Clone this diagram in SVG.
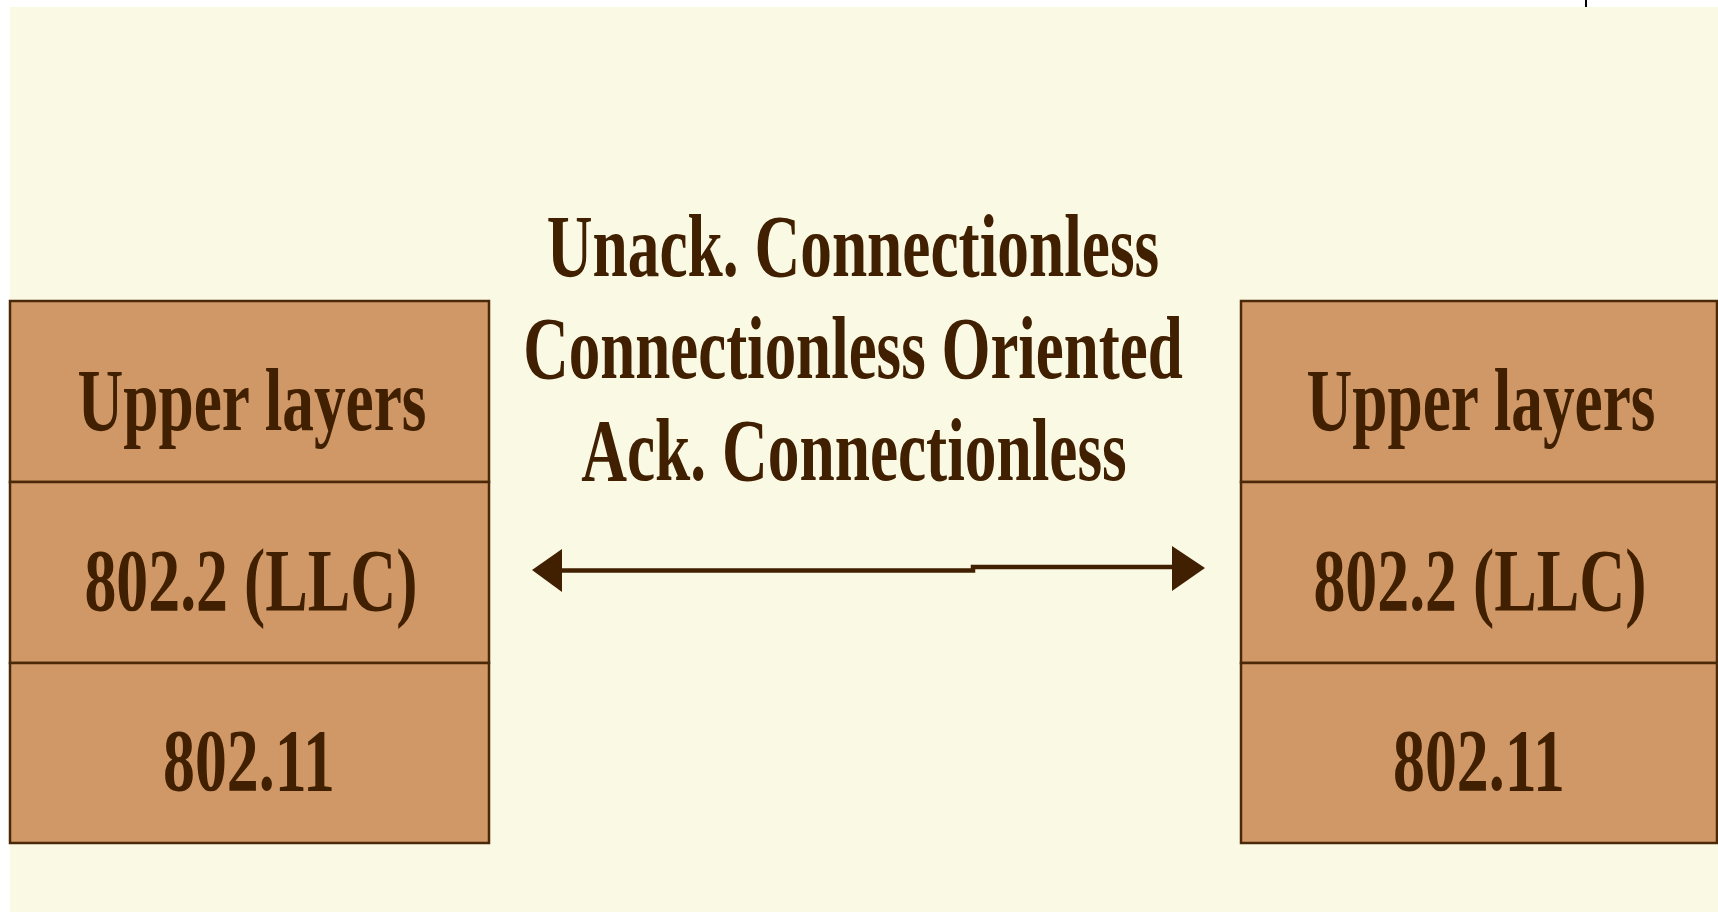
<svg xmlns="http://www.w3.org/2000/svg" width="1718" height="912" viewBox="0 0 1718 912">
  <style>
    .panel { fill: #FAF9E4; }
    .layer { fill: #D09866; stroke: #4A2808; stroke-width: 2.5; }
    .label { font-family: "Liberation Serif", "Times New Roman", serif; font-weight: bold; font-size: 88px; fill: #402000; text-anchor: middle; }
    .wire { stroke: #402000; stroke-width: 4.5; fill: none; }
    .head { fill: #402000; }
  </style>

  <!-- page and cream panel -->
  <rect x="0" y="0" width="1718" height="912" fill="#FFFFFF"/>
  <rect class="panel" x="10" y="7" width="1708" height="905"/>
  <line x1="1586" y1="0" x2="1586" y2="7" stroke="#000000" stroke-width="2"/>

  <!-- left protocol stack (labels are horizontally condensed bold serif) -->
  <g id="stack-left">
    <rect class="layer" x="10" y="301" width="479" height="181"/>
    <rect class="layer" x="10" y="482" width="479" height="181"/>
    <rect class="layer" x="10" y="663" width="479" height="180"/>
    <text class="label" transform="translate(252,430) scale(0.72,1)">Upper layers</text>
    <text class="label" transform="translate(251,610) scale(0.725,1)">802.2 (LLC)</text>
    <text class="label" transform="translate(249,790) scale(0.725,1)">802.11</text>
  </g>

  <!-- right protocol stack -->
  <g id="stack-right">
    <rect class="layer" x="1241" y="301" width="476" height="181"/>
    <rect class="layer" x="1241" y="482" width="476" height="181"/>
    <rect class="layer" x="1241" y="663" width="476" height="180"/>
    <text class="label" transform="translate(1481,430) scale(0.72,1)">Upper layers</text>
    <text class="label" transform="translate(1480,610) scale(0.725,1)">802.2 (LLC)</text>
    <text class="label" transform="translate(1479,790) scale(0.725,1)">802.11</text>
  </g>

  <!-- service types offered between the LLC layers -->
  <g id="services">
    <text class="label" transform="translate(853,276) scale(0.72,1)">Unack. Connectionless</text>
    <text class="label" transform="translate(853,378) scale(0.716,1)">Connectionless Oriented</text>
    <text class="label" transform="translate(854,480) scale(0.72,1)">Ack. Connectionless</text>
  </g>

  <!-- double-headed link between the stacks -->
  <g id="connectors">
    <polyline class="wire" points="562,570.5 973,570.5 973,567 1172,567"/>
    <polygon class="head" points="532,570 562,549 562,592"/>
    <polygon class="head" points="1205,568 1172,546 1172,591"/>
  </g>
</svg>
